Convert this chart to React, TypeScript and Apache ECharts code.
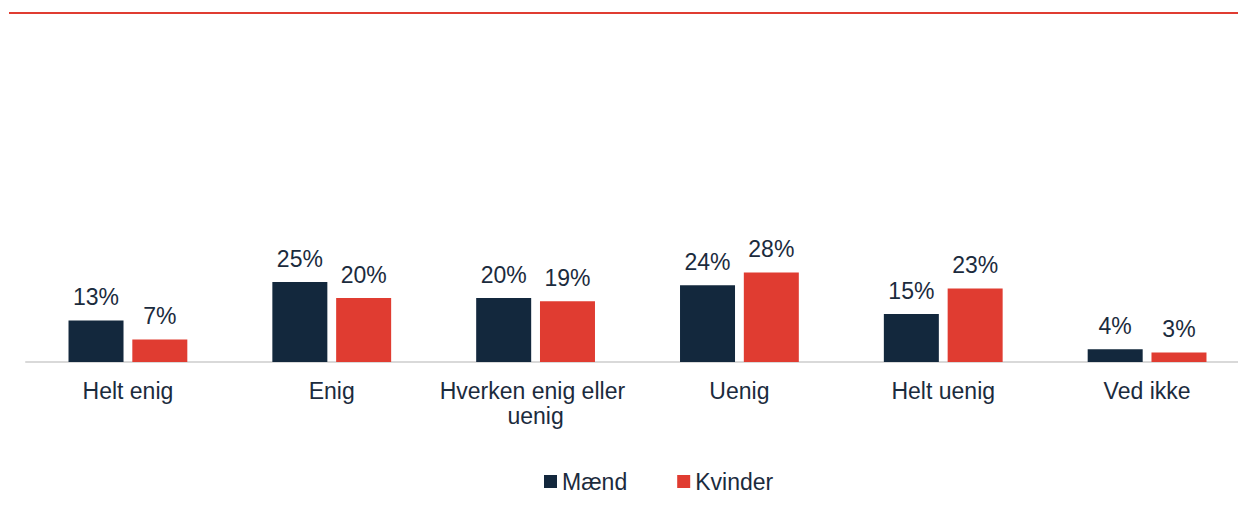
import React, { useEffect, useRef } from "react";
import * as echarts from "echarts";

const categories = ["Helt enig", "Enig", "Hverken enig eller uenig", "Uenig", "Helt uenig", "Ved ikke"];
const maend = [13, 25, 20, 24, 15, 4];
const kvinder = [7, 20, 19, 28, 23, 3];
const seriesNames = ["Mænd", "Kvinder"];

const NAVY = "#13283D";
const RED = "#E03C31";
const TEXT = "#1B2B3D";
const FONT = "'Liberation Sans', Arial, sans-serif";
const FS = 23;

export default function App() {
  const ref = useRef<HTMLDivElement>(null);
  useEffect(() => {
    if (!ref.current) return;
    const chart = echarts.init(ref.current, undefined, { renderer: "svg" });
    const label = {
      show: true,
      position: "top" as const,
      distance: 12,
      color: TEXT,
      fontSize: FS,
      fontFamily: FONT,
      formatter: (p: any) => p.value + "%",
    };
    chart.setOption({
      animation: false,
      textStyle: { fontFamily: FONT },
      graphic: [
        {
          type: "line",
          shape: { x1: 9, y1: 13, x2: 1238, y2: 13 },
          style: { stroke: RED, lineWidth: 2 },
        },
      ],
      legend: {
        left: 539,
        top: 465,
        itemWidth: 13,
        itemHeight: 13,
        itemGap: 50,
        icon: "rect",
        textStyle: { color: TEXT, fontSize: FS, fontFamily: FONT },
        data: seriesNames,
      },
      grid: { left: 26, top: 42, width: 1224, height: 320, containLabel: false },
      xAxis: {
        type: "category",
        data: categories,
        axisLine: { show: true, lineStyle: { color: "#D9D9D9", width: 2 } },
        axisTick: { show: false },
        axisLabel: {
          interval: 0,
          margin: 16,
          color: TEXT,
          fontSize: FS,
          fontFamily: FONT,
          lineHeight: 25,
          width: 200,
          overflow: "break",
        },
      },
      yAxis: { type: "value", min: 0, max: 100, show: false },
      series: [
        {
          name: seriesNames[0],
          type: "bar",
          data: maend,
          barWidth: 55,
          barGap: "16%",
          itemStyle: { color: NAVY },
          label,
        },
        {
          name: seriesNames[1],
          type: "bar",
          data: kvinder,
          barWidth: 55,
          barGap: "16%",
          itemStyle: { color: RED },
          label,
        },
      ],
    });
    return () => chart.dispose();
  }, []);
  return (
    <div
      ref={ref}
      style={{ position: "fixed", left: 0, top: 0, width: 1250, height: 507, background: "#fff" }}
    />
  );
}
